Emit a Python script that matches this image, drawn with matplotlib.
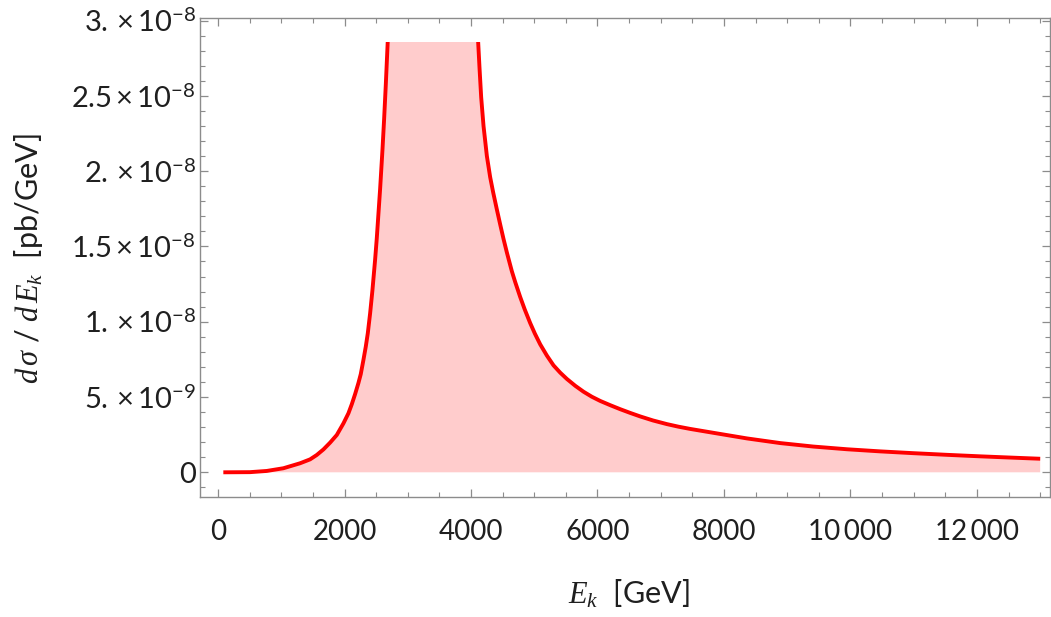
import matplotlib
matplotlib.use("Agg")
from matplotlib import pyplot as plt
from matplotlib.patches import Rectangle
import numpy as np

# curve (x in GeV, y in 1e-9 pb/GeV)
# the middle of the peak is outside the plot range, those points are rough guesses
energy = [84, 506, 771, 1034, 1297, 1456, 1561, 1667, 1772, 1878, 1983, 2062,
          2115, 2168, 2220, 2257, 2299, 2336, 2368, 2405, 2441, 2484, 2510,
          2563, 2600, 2626, 2653, 2684, 2720, 2900, 3300, 3700, 4000, 4080,
          4113, 4134, 4161, 4198, 4251, 4303, 4350, 4409, 4462, 4514, 4567,
          4646, 4700, 4778, 4850, 4936, 5010, 5094, 5200, 5305, 5410, 5516,
          5650, 5780, 5910, 6043, 6200, 6360, 6520, 6676, 6880, 7098, 7280,
          7467, 7836, 8364, 8891, 9413, 9946, 10469, 10996, 11528, 12055,
          12582, 13000]
dsigma = [0.0, 0.01, 0.09, 0.27, 0.60, 0.86, 1.15, 1.52, 1.97, 2.48, 3.25, 3.92,
          4.52, 5.20, 5.93, 6.52, 7.46, 8.34, 9.23, 10.56, 12.07, 14.13, 15.53,
          18.82, 21.41, 23.44, 25.76, 28.67, 32.0, 50.0, 120.0, 70.0, 36.0, 31.0,
          28.59, 26.9, 24.9, 23.0, 21.0, 19.6, 18.6, 17.45, 16.45, 15.5, 14.6,
          13.35, 12.62, 11.64, 10.81, 9.91, 9.21, 8.5, 7.75, 7.1, 6.62, 6.2,
          5.74, 5.35, 5.02, 4.74, 4.46, 4.19, 3.94, 3.71, 3.44, 3.20, 3.03,
          2.88, 2.62, 2.25, 1.94, 1.71, 1.53, 1.39, 1.27, 1.16, 1.06,
          0.97, 0.90]
dsigma = [v * 1e-9 for v in dsigma]

plot_top = 2.86e-8  # curve is cut off here

xticks = [0, 2000, 4000, 6000, 8000, 10000, 12000]
xtick_labels = ["0", "2000", "4000", "6000", "8000", "10\u2009000", "12\u2009000"]
yticks = [0, 5e-9, 1e-8, 1.5e-8, 2e-8, 2.5e-8, 3e-8]
ytick_labels = ["0", r"$5.\times10^{-9}$", r"$1.\times10^{-8}$", r"$1.5\times10^{-8}$",
                r"$2.\times10^{-8}$", r"$2.5\times10^{-8}$", r"$3.\times10^{-8}$"]

plt.rcParams["font.family"] = ["Lato", "DejaVu Sans"]
plt.rcParams["mathtext.fontset"] = "custom"
plt.rcParams["mathtext.rm"] = "Lato"
plt.rcParams["mathtext.it"] = "Liberation Serif:italic"
plt.rcParams["mathtext.bf"] = "Lato:bold"

txt = "#1f1f1f"
frame = "#8c8c8c"

fig = plt.figure(figsize=(10.51, 6.17), dpi=100)
ax = fig.add_axes([200 / 1051, 1 - 496.7 / 617, 850 / 1051, 478.7 / 617])

clip = Rectangle((-1e5, -1e-7), 1e6, plot_top + 1e-7, transform=ax.transData)

fill = ax.fill_between(energy, 0, dsigma, color="#ffcccc", linewidth=0)
fill.set_clip_path(clip)
line, = ax.plot(energy, dsigma, color="red", lw=2.8, solid_capstyle="butt",
                solid_joinstyle="round")
line.set_clip_path(clip)

ax.set_xticks(xticks)
ax.set_xticklabels(xtick_labels)
ax.set_xticks(np.arange(-500, 13500, 500), minor=True)
ax.set_yticks(yticks)
ax.set_yticklabels(ytick_labels)
ax.set_yticks(np.arange(-1e-9, 3.05e-8, 1e-9), minor=True)

# limits last, set_xticks would stretch them
ax.set_xlim(-285, 13155)
ax.set_ylim(-1.62e-9, 3.017e-8)

for s in ax.spines.values():
    s.set_color(frame)
    s.set_linewidth(1.0)
ax.tick_params(which="both", direction="in", top=True, right=True, color=frame,
               labelsize=20, labelcolor=txt)
ax.tick_params(axis="y", labelsize=21)
ax.tick_params(which="major", length=6, width=0.9)
ax.tick_params(which="minor", length=3.5, width=0.8)
ax.tick_params(axis="x", which="major", pad=16)
ax.tick_params(axis="y", which="major", pad=3)

ax.set_xlabel(r"$E_k$  [GeV]", fontsize=22, color=txt)
ax.xaxis.label.set_va("center")
ax.xaxis.set_label_coords(0.505, -0.203)
ax.set_ylabel(r"$d\,\sigma\ /\ d\,E_k$  [pb/GeV]", fontsize=22, color=txt)
ax.yaxis.label.set_va("center")
ax.yaxis.set_label_coords(-0.202, 0.497)

fig.savefig("out.png", dpi=100)
